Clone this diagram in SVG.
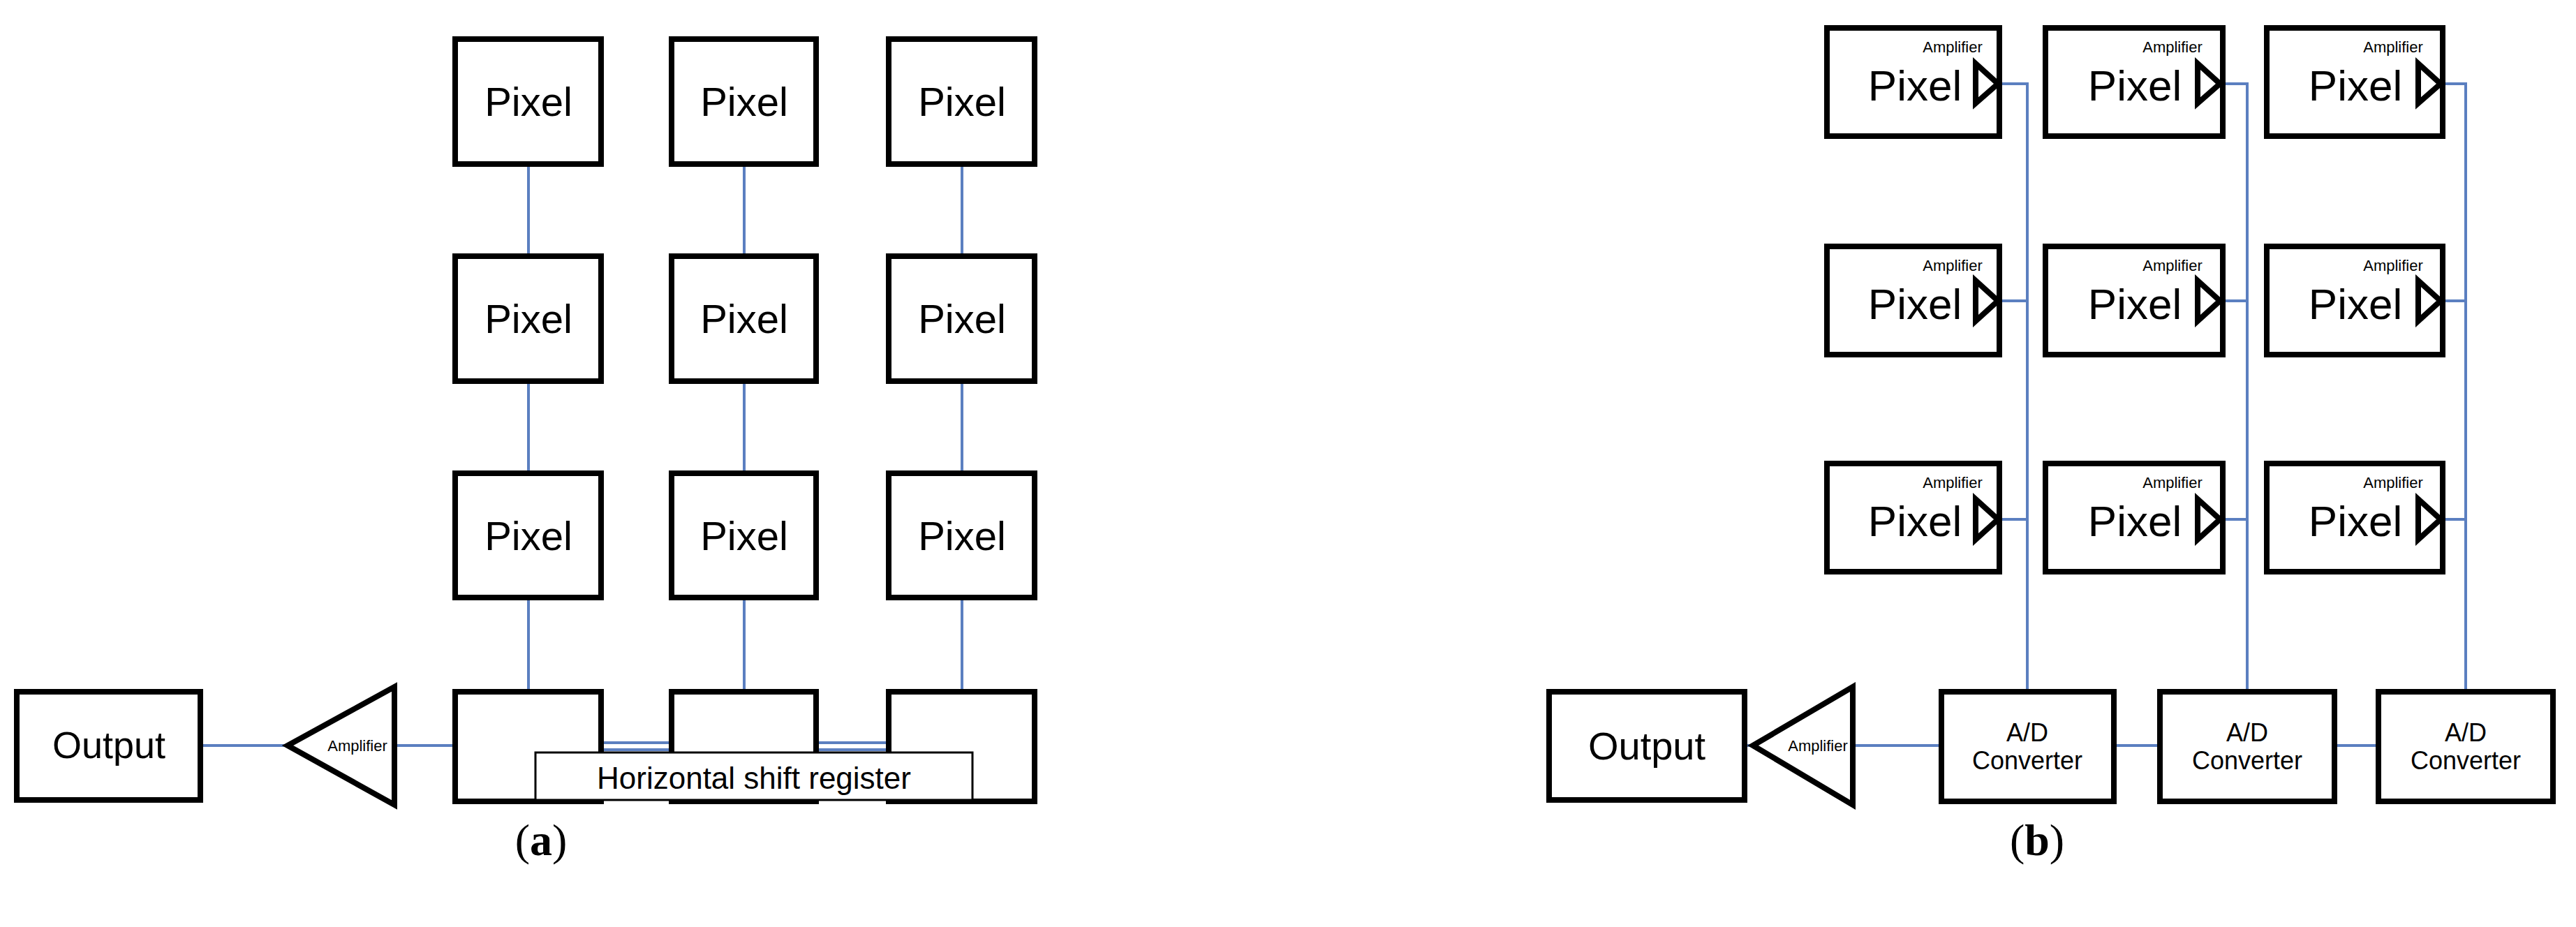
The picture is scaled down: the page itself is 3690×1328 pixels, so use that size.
<svg xmlns="http://www.w3.org/2000/svg" width="3690" height="1328" viewBox="0 0 3690 1328">
<style>
.b{fill:#fff;stroke:#000;stroke-width:8}
.t{font-family:"Liberation Sans",Arial,sans-serif;fill:#000;text-anchor:middle}
.px{font-size:58px}
.pb{font-size:62px}
.am{font-size:22px}
.c{stroke:#5b7fc0;stroke-width:4;fill:none}
.lab{font-family:"Liberation Serif",serif;font-size:64px;text-anchor:middle}
</style>
<rect width="3690" height="1328" fill="#fff"/>
<g id="connectors">
<path class="c" d="M757 235V367M757 546V678M757 856V991M1066 235V367M1066 546V678M1066 856V991M1378 235V367M1378 546V678M1378 856V991M287 1068H412M565 1068H652M861 1064H962M861 1074H962M1169 1064H1273M1169 1074H1273"/>
<path class="c" d="M2862 120H2904V991M2862 431H2904M2862 744H2904M3180 120H3219V991M3180 431H3219M3180 744H3219M3496 120H3532V991M3496 431H3532M3496 744H3532M2499 1068H2511M2654 1068H2781M3028 1068H3094M3344 1068H3407"/>
</g>
<g id="a-pixels">
<rect class="b" x="652" y="56" width="209" height="179"/><text class="t px" x="757" y="166">Pixel</text>
<rect class="b" x="962" y="56" width="207" height="179"/><text class="t px" x="1066" y="166">Pixel</text>
<rect class="b" x="1273" y="56" width="209" height="179"/><text class="t px" x="1378" y="166">Pixel</text>
<rect class="b" x="652" y="367" width="209" height="179"/><text class="t px" x="757" y="477">Pixel</text>
<rect class="b" x="962" y="367" width="207" height="179"/><text class="t px" x="1066" y="477">Pixel</text>
<rect class="b" x="1273" y="367" width="209" height="179"/><text class="t px" x="1378" y="477">Pixel</text>
<rect class="b" x="652" y="678" width="209" height="178"/><text class="t px" x="757" y="788">Pixel</text>
<rect class="b" x="962" y="678" width="207" height="178"/><text class="t px" x="1066" y="788">Pixel</text>
<rect class="b" x="1273" y="678" width="209" height="178"/><text class="t px" x="1378" y="788">Pixel</text>
</g>
<g id="a-register">
<rect class="b" x="652" y="991" width="209" height="157"/>
<rect class="b" x="962" y="991" width="207" height="157"/>
<rect class="b" x="1273" y="991" width="209" height="157"/>
<rect x="767" y="1078" width="626" height="68" fill="#fff" stroke="#000" stroke-width="3"/>
<text class="t" x="1080" y="1130" font-size="44">Horizontal shift register</text>
</g>
<g id="a-output"><rect class="b" x="24" y="991" width="263" height="155"/><text class="t" x="156" y="1086" font-size="54">Output</text></g>
<g id="a-amp"><polygon class="b" points="412,1068 565,984 565,1153"/><text class="t am" x="512" y="1076">Amplifier</text></g>
<text class="lab" x="775" y="1225">(<tspan font-weight="bold">a</tspan>)</text>

<g id="b-pixels">
<g id="bp11"><rect class="b" x="2617" y="40" width="247" height="155"/><text class="t pb" x="2743" y="144">Pixel</text><text class="t am" x="2797" y="75">Amplifier</text><polygon class="b" points="2830,91 2862,120 2830,148"/></g>
<g id="bp12"><rect class="b" x="2930" y="40" width="254" height="155"/><text class="t pb" x="3058" y="144">Pixel</text><text class="t am" x="3112" y="75">Amplifier</text><polygon class="b" points="3148,91 3180,120 3148,148"/></g>
<g id="bp13"><rect class="b" x="3247" y="40" width="252" height="155"/><text class="t pb" x="3374" y="144">Pixel</text><text class="t am" x="3428" y="75">Amplifier</text><polygon class="b" points="3464,91 3496,120 3464,148"/></g>
<g id="bp21"><rect class="b" x="2617" y="353" width="247" height="155"/><text class="t pb" x="2743" y="457">Pixel</text><text class="t am" x="2797" y="388">Amplifier</text><polygon class="b" points="2830,402 2862,431 2830,460"/></g>
<g id="bp22"><rect class="b" x="2930" y="353" width="254" height="155"/><text class="t pb" x="3058" y="457">Pixel</text><text class="t am" x="3112" y="388">Amplifier</text><polygon class="b" points="3148,402 3180,431 3148,460"/></g>
<g id="bp23"><rect class="b" x="3247" y="353" width="252" height="155"/><text class="t pb" x="3374" y="457">Pixel</text><text class="t am" x="3428" y="388">Amplifier</text><polygon class="b" points="3464,402 3496,431 3464,460"/></g>
<g id="bp31"><rect class="b" x="2617" y="664" width="247" height="155"/><text class="t pb" x="2743" y="768">Pixel</text><text class="t am" x="2797" y="699">Amplifier</text><polygon class="b" points="2830,715 2862,744 2830,773"/></g>
<g id="bp32"><rect class="b" x="2930" y="664" width="254" height="155"/><text class="t pb" x="3058" y="768">Pixel</text><text class="t am" x="3112" y="699">Amplifier</text><polygon class="b" points="3148,715 3180,744 3148,773"/></g>
<g id="bp33"><rect class="b" x="3247" y="664" width="252" height="155"/><text class="t pb" x="3374" y="768">Pixel</text><text class="t am" x="3428" y="699">Amplifier</text><polygon class="b" points="3464,715 3496,744 3464,773"/></g>
</g>
<g id="b-adc">
<rect class="b" x="2781" y="991" width="247" height="157"/><text class="t" x="2904" y="1062" font-size="36">A/D</text><text class="t" x="2904" y="1102" font-size="36">Converter</text>
<rect class="b" x="3094" y="991" width="250" height="157"/><text class="t" x="3219" y="1062" font-size="36">A/D</text><text class="t" x="3219" y="1102" font-size="36">Converter</text>
<rect class="b" x="3407" y="991" width="250" height="157"/><text class="t" x="3532" y="1062" font-size="36">A/D</text><text class="t" x="3532" y="1102" font-size="36">Converter</text>
</g>
<g id="b-output"><rect class="b" x="2219" y="991" width="280" height="155"/><text class="t" x="2359" y="1088" font-size="56">Output</text></g>
<g id="b-amp"><polygon class="b" points="2511,1068 2654,984 2654,1153"/><text class="t am" x="2604" y="1076">Amplifier</text></g>
<text class="lab" x="2918" y="1225">(<tspan font-weight="bold">b</tspan>)</text>
</svg>
